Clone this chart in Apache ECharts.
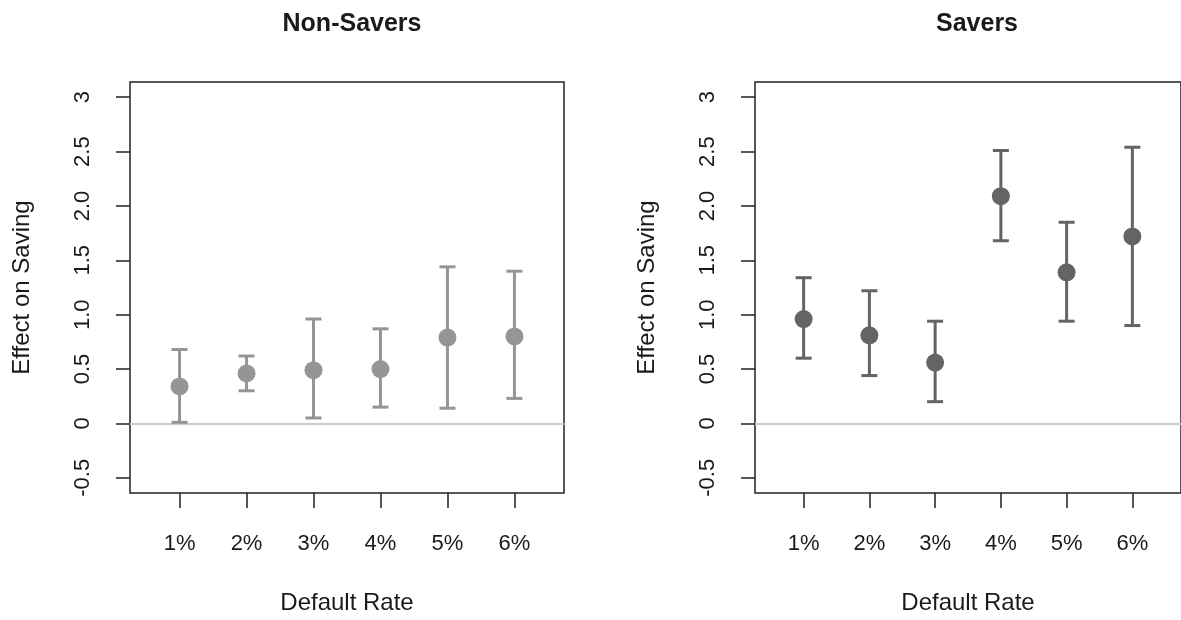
<!DOCTYPE html>
<html>
<head>
<meta charset="utf-8">
<script src="https://cdn.jsdelivr.net/npm/echarts@6/dist/echarts.min.js"></script>
<style>
html,body{margin:0;padding:0;background:#fff;}
#c{width:1181px;height:620px;}
</style>
</head>
<body>
<div id="c"></div>
<script>
var categories = ['1%', '2%', '3%', '4%', '5%', '6%'];
var panelTitles = ['Non-Savers', 'Savers'];
var nonSaversEst  = [0.34, 0.46, 0.49, 0.50, 0.79, 0.80];
var nonSaversLow  = [0.01, 0.30, 0.05, 0.15, 0.14, 0.23];
var nonSaversHigh = [0.68, 0.62, 0.96, 0.87, 1.44, 1.40];
var saversEst  = [0.96, 0.81, 0.56, 2.09, 1.39, 1.72];
var saversLow  = [0.60, 0.44, 0.20, 1.68, 0.94, 0.90];
var saversHigh = [1.34, 1.22, 0.94, 2.51, 1.85, 2.54];
var yTickValues = [-0.5, 0, 0.5, 1, 1.5, 2, 2.5, 3];
var yTickLabels = ['-0.5', '0', '0.5', '1.0', '1.5', '2.0', '2.5', '3'];
var xTickValues = [1, 2, 3, 4, 5, 6];

var FONT = '"Liberation Sans", Arial, sans-serif';
var TXT = '#1a1a1a';
var AX = '#222222';

var grids = [
  {left: 130, top: 82, width: 434, height: 412},
  {left: 755, top: 82, width: 434, height: 412}
];

function xAxisFor(i) {
  return {
    gridIndex: i, type: 'value', min: 0.26, max: 6.74, position: 'bottom',
    name: 'Default Rate', nameLocation: 'middle', nameGap: 98,
    nameTextStyle: {fontFamily: FONT, fontSize: 24, color: TXT},
    axisLine: {show: false, onZero: false},
    splitLine: {show: false},
    axisTick: {show: true, length: 15, lineStyle: {color: AX, width: 1.5}, customValues: xTickValues},
    axisLabel: {fontFamily: FONT, fontSize: 22, color: TXT, margin: 40, customValues: xTickValues,
      formatter: function (v) { return categories[Math.round(v) - 1]; }}
  };
}
function yAxisFor(i) {
  return {
    gridIndex: i, type: 'value', min: -0.64, max: 3.14, position: 'left',
    name: 'Effect on Saving', nameLocation: 'middle', nameGap: 96, nameRotate: 90,
    nameTextStyle: {fontFamily: FONT, fontSize: 24, color: TXT},
    axisLine: {show: false, onZero: false},
    splitLine: {show: false},
    axisTick: {show: true, length: 14, lineStyle: {color: AX, width: 1.5}, customValues: yTickValues},
    axisLabel: {fontFamily: FONT, fontSize: 22, color: TXT, margin: 36, rotate: 90, customValues: yTickValues,
      formatter: function (v) {
        for (var k = 0; k < yTickValues.length; k++) if (Math.abs(yTickValues[k] - v) < 1e-6) return yTickLabels[k];
        return '';
      }}
  };
}

function errData(low, high) {
  return low.map(function (l, k) { return [xTickValues[k], l, high[k]]; });
}
function ptData(est) {
  return est.map(function (e, k) { return [xTickValues[k], e]; });
}
function errSeries(i, low, high, color) {
  return {
    type: 'custom', xAxisIndex: i, yAxisIndex: i, z: 3,
    data: errData(low, high),
    renderItem: function (params, api) {
      var x = api.value(0);
      var lo = api.coord([x, api.value(1)]);
      var hi = api.coord([x, api.value(2)]);
      var w = 8;
      var st = {stroke: color, lineWidth: 3};
      return {type: 'group', children: [
        {type: 'line', shape: {x1: lo[0], y1: lo[1], x2: hi[0], y2: hi[1]}, style: st},
        {type: 'line', shape: {x1: lo[0] - w, y1: lo[1], x2: lo[0] + w, y2: lo[1]}, style: st},
        {type: 'line', shape: {x1: hi[0] - w, y1: hi[1], x2: hi[0] + w, y2: hi[1]}, style: st}
      ]};
    }
  };
}
function ptSeries(i, est, color) {
  return {
    type: 'scatter', xAxisIndex: i, yAxisIndex: i, z: 4,
    symbol: 'circle', symbolSize: 18,
    itemStyle: {color: color, opacity: 1},
    data: ptData(est),
    markLine: {
      silent: true, symbol: 'none', z: 1,
      label: {show: false},
      lineStyle: {color: '#cccccc', width: 2, type: 'solid'},
      data: [{yAxis: 0}]
    }
  };
}

var chart = echarts.init(document.getElementById('c'), null, {renderer: 'canvas'});
chart.setOption({
  backgroundColor: '#ffffff',
  animation: false,
  title: [
    {text: panelTitles[0], left: 347, top: 7, textAlign: 'center',
      textStyle: {fontFamily: FONT, fontSize: 25, fontWeight: 'bold', color: TXT}},
    {text: panelTitles[1], left: 972, top: 7, textAlign: 'center',
      textStyle: {fontFamily: FONT, fontSize: 25, fontWeight: 'bold', color: TXT}}
  ],
  grid: grids.map(function (g) {
    return {left: g.left, top: g.top, width: g.width, height: g.height, show: true,
      borderColor: AX, borderWidth: 1.5, backgroundColor: 'transparent'};
  }),
  xAxis: [xAxisFor(0), xAxisFor(1)],
  yAxis: [yAxisFor(0), yAxisFor(1)],
  series: [
    errSeries(0, nonSaversLow, nonSaversHigh, '#959595'),
    ptSeries(0, nonSaversEst, '#959595'),
    errSeries(1, saversLow, saversHigh, '#646464'),
    ptSeries(1, saversEst, '#646464')
  ]
});
</script>
</body>
</html>
